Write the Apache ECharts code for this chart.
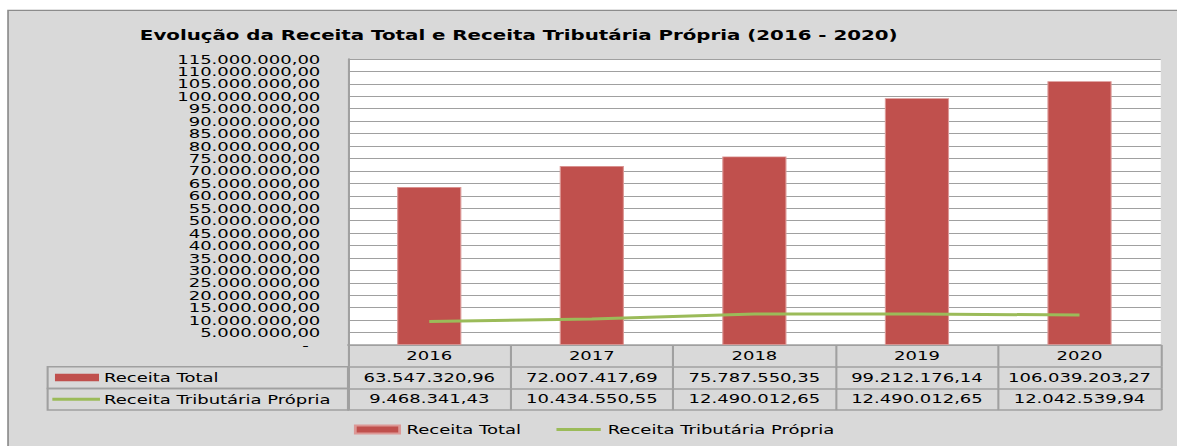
<!DOCTYPE html>
<html>
<head>
<meta charset="utf-8">
<script src="https://cdn.jsdelivr.net/npm/echarts@6/dist/echarts.min.js"></script>
<style>
    html, body { margin: 0; padding: 0; background: #fff; overflow: hidden; }
    /* the source picture is stretched horizontally, so draw narrower and stretch */
    #chart { width: 850px; height: 446px; transform: scaleX(1.3847); transform-origin: 0 0; }
</style>
</head>
<body>
<div id="chart"></div>
<script>
const years = [ '2016', '2017', '2018', '2019', '2020' ];
const receitaTotal = [ 63547320.96, 72007417.69, 75787550.35, 99212176.14, 106039203.27 ];
const receitaTributaria = [ 9468341.43, 10434550.55, 12490012.65, 12490012.65, 12042539.94 ];
const seriesNames = [ 'Receita Total', 'Receita Tributária Própria' ];
const titleText = 'Evolução da Receita Total e Receita Tributária Própria (2016 - 2020)';
const yMax = 115000000;
const yStep = 5000000;

const FONT = 'DejaVu Sans';
const GRID_LEFT = 251.3;
const GRID_RIGHT = 11.7;
const GRID_TOP = 59;
const PLOT_BOTTOM = 345;
const ROW_H = 21.7;
const TABLE_LEFT = 34.4;
const LINE_GREY = '#a0a0a0';
const RED = '#c0504d';
const GREEN = '#9bbb59';

// 1234567.8 -> 1.234.567,80
function fmtBR( v ) {
    const parts = v.toFixed( 2 ).split( '.' );
    return parts[ 0 ].replace( /\B(?=(\d{3})+(?!\d))/g, '.' ) + ',' + parts[ 1 ];
}

// y tick labels, zero is shown as a dash with some room after it
const yTickLabels = [];
for ( let v = 0; v <= yMax; v += yStep ) {
    yTickLabels.push( v === 0 ? '-\u00a0\u00a0' : fmtBR( v ) );
}

const textStyle = { fontFamily: FONT, fontSize: 13, color: '#000' };

// category axis used as a table row (or just a border line)
function tableAxis( offset, rowValues ) {
    return {
        type: 'category',
        gridIndex: 0,
        position: 'bottom',
        offset,
        data: years,
        boundaryGap: true,
        axisLine: { show: true, lineStyle: { color: LINE_GREY, width: 1.5 } },
        axisTick: {
            show: !!rowValues,
            interval: 0,
            length: ROW_H,
            lineStyle: { color: LINE_GREY, width: 1.5 }
        },
        axisLabel: {
            show: !!rowValues,
            interval: 0,
            margin: 4,
            ...textStyle,
            formatter: ( val, idx ) => rowValues ? rowValues[ idx ] : ''
        },
        splitLine: { show: false }
    }
}

const chart = echarts.init( document.getElementById( 'chart' ), null, { renderer: 'svg' } );

const row1Y = PLOT_BOTTOM + ROW_H;
const row2Y = PLOT_BOTTOM + ROW_H * 2;

const option = {
    animation: false,
    backgroundColor: '#fff',
    title: {
        text: titleText,
        left: 101,
        top: 28,
        padding: 0,
        textStyle: { fontFamily: FONT, fontSize: 14.3, fontWeight: 'bold', color: '#000' }
    },
    legend: {
        left: 255.6,
        top: 423,
        padding: 0,
        itemWidth: 32,
        itemHeight: 8,
        itemGap: 24,
        textStyle,
        data: [
            { name: seriesNames[ 0 ], icon: 'rect' },
            { name: seriesNames[ 1 ], itemStyle: { opacity: 0 }, lineStyle: { width: 3, color: GREEN } }
        ]
    },
    grid: {
        left: GRID_LEFT,
        right: GRID_RIGHT,
        top: GRID_TOP,
        bottom: 446 - PLOT_BOTTOM,
        show: true,
        backgroundColor: '#fff',
        borderWidth: 0
    },
    xAxis: [
        tableAxis( 0, years ),
        tableAxis( ROW_H, receitaTotal.map( fmtBR ) ),
        tableAxis( ROW_H * 2, receitaTributaria.map( fmtBR ) ),
        tableAxis( ROW_H * 3, null )
    ],
    yAxis: [
        {
            type: 'value',
            min: 0,
            max: yMax,
            interval: yStep,
            axisLine: { show: true, lineStyle: { color: LINE_GREY, width: 1.5 } },
            axisTick: { show: false },
            axisLabel: { show: false },
            splitLine: { lineStyle: { color: LINE_GREY, width: 1 } }
        },
        // labels only: a category axis keeps every label, value axes drop crowded ones
        {
            type: 'category',
            position: 'left',
            data: yTickLabels,
            boundaryGap: false,
            axisLine: { show: false },
            axisTick: { show: false },
            splitLine: { show: false },
            axisLabel: {
                interval: 0,
                margin: 20,
                ...textStyle
            }
        }
    ],
    graphic: [
        {
            type: 'rect',
            z: -10,
            silent: true,
            shape: { x: 5.8, y: 10.3, width: 1000, height: 600 },
            style: { fill: '#d9d9d9', stroke: '#8c8c8c', lineWidth: 1.2 }
        },
        {
            type: 'rect',
            silent: true,
            shape: { x: TABLE_LEFT, y: row1Y, width: GRID_LEFT - TABLE_LEFT, height: ROW_H },
            style: { fill: 'transparent', stroke: LINE_GREY, lineWidth: 1.5 }
        },
        {
            type: 'rect',
            silent: true,
            shape: { x: TABLE_LEFT, y: row2Y, width: GRID_LEFT - TABLE_LEFT, height: ROW_H },
            style: { fill: 'transparent', stroke: LINE_GREY, lineWidth: 1.5 }
        },
        {
            type: 'rect',
            silent: true,
            shape: { x: TABLE_LEFT + 5.3, y: row1Y + ROW_H / 2 - 3.8, width: 31.8, height: 7.5 },
            style: { fill: RED }
        },
        {
            type: 'line',
            silent: true,
            shape: { x1: TABLE_LEFT + 3.4, y1: row2Y + ROW_H / 2, x2: TABLE_LEFT + 37.8, y2: row2Y + ROW_H / 2 },
            style: { stroke: GREEN, lineWidth: 3 }
        },
        {
            type: 'text',
            silent: true,
            x: TABLE_LEFT + 40.7,
            y: row1Y + ROW_H / 2,
            style: { text: seriesNames[ 0 ], font: '13px "' + FONT + '"', fill: '#000', verticalAlign: 'middle' }
        },
        {
            type: 'text',
            silent: true,
            x: TABLE_LEFT + 40.7,
            y: row2Y + ROW_H / 2,
            style: { text: seriesNames[ 1 ], font: '13px "' + FONT + '"', fill: '#000', verticalAlign: 'middle' }
        }
    ],
    series: [
        {
            name: seriesNames[ 0 ],
            type: 'bar',
            xAxisIndex: 0,
            yAxisIndex: 0,
            barWidth: '39.5%',
            itemStyle: { color: RED, borderColor: '#dc9896', borderWidth: 0.8 },
            data: receitaTotal
        },
        {
            name: seriesNames[ 1 ],
            type: 'line',
            xAxisIndex: 0,
            yAxisIndex: 0,
            symbol: 'none',
            z: 3,
            lineStyle: { color: GREEN, width: 3 },
            itemStyle: { color: GREEN },
            data: receitaTributaria
        }
    ]
};

chart.setOption( option );
</script>
</body>
</html>
